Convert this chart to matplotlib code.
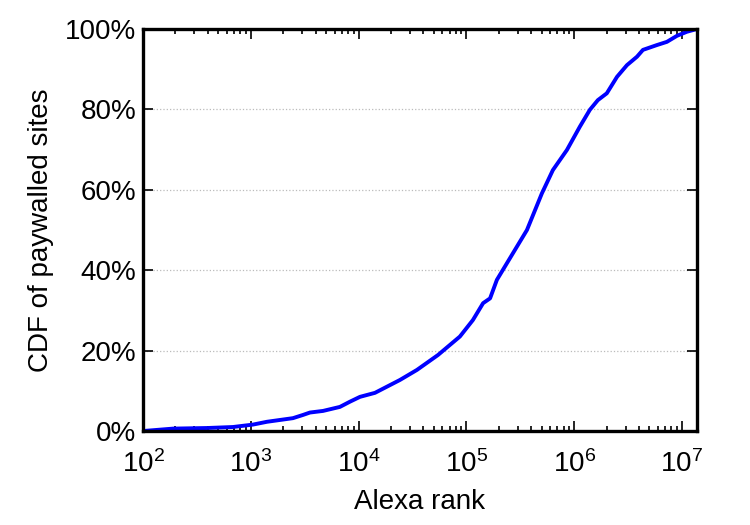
import math
import matplotlib
matplotlib.use("Agg")
import matplotlib.pyplot as plt
from matplotlib.ticker import FuncFormatter, LogLocator, NullFormatter

plt.rcParams['font.family'] = ['Liberation Sans', 'DejaVu Sans']
plt.rcParams['mathtext.fontset'] = 'custom'
plt.rcParams['mathtext.rm'] = 'Liberation Sans'
plt.rcParams['mathtext.default'] = 'regular'

# Data (Alexa rank, CDF %)
ranks = [100, 190, 393, 684, 1047, 1413, 2460, 3050, 3540, 4680, 6710, 8320,
         10300, 14200, 24200, 34800, 54500, 87100, 115000, 143000, 166000,
         192000, 254000, 365000, 502000, 635000, 857000, 1130000, 1400000,
         1660000, 2010000, 2500000, 3090000, 3830000, 4350000, 5860000,
         7260000, 9000000, 11100000, 13800000]
cdf_pct = [0.0, 0.6, 0.75, 1.0, 1.6, 2.3, 3.2, 4.0, 4.6, 5.0, 6.0, 7.3,
           8.5, 9.5, 12.7, 15.2, 18.9, 23.5, 27.6, 31.8, 33.0,
           37.6, 43.0, 50.0, 59.1, 64.9, 69.9, 75.7, 79.9,
           82.3, 84.0, 88.1, 91.0, 93.1, 94.8, 96.0,
           96.8, 98.3, 99.3, 100.0]
y_ticks = [0, 20, 40, 60, 80, 100]
x_ticks = [1e2, 1e3, 1e4, 1e5, 1e6, 1e7]

fig = plt.figure(figsize=(7.5, 5.25), dpi=100)
ax = fig.add_axes([0.1907, 0.179, 0.7386, 0.7658])

ax.plot(ranks, cdf_pct, color='#0000ff', lw=2.8)
ax.set_xscale('log')
ax.set_xlim(100, 1.38e7)
ax.set_ylim(0, 100)

ax.set_xticks(x_ticks)
ax.xaxis.set_major_formatter(FuncFormatter(lambda v, p: r'$10^{%d}$' % round(math.log10(v))))
ax.xaxis.set_minor_locator(LogLocator(base=10, subs=range(2, 10)))
ax.xaxis.set_minor_formatter(NullFormatter())
ax.set_yticks(y_ticks)
ax.set_yticklabels(['%d%%' % t for t in y_ticks])

ax.tick_params(which='both', direction='in', top=True, right=True, labelsize=20, width=1.2)
ax.tick_params(which='major', length=7)
ax.tick_params(which='minor', length=3.5)
ax.tick_params(axis='x', which='major', pad=14)
ax.tick_params(axis='y', which='major', pad=5)

ax.yaxis.grid(True, linestyle=':', color='#bbbbbb', lw=0.9)
ax.set_axisbelow(True)

for s in ax.spines.values():
    s.set_linewidth(2.4)

ax.set_xlabel('Alexa rank', fontsize=20, labelpad=8)
ax.set_ylabel('CDF of paywalled sites', fontsize=20, labelpad=8)

fig.savefig('out.png', dpi=100)
